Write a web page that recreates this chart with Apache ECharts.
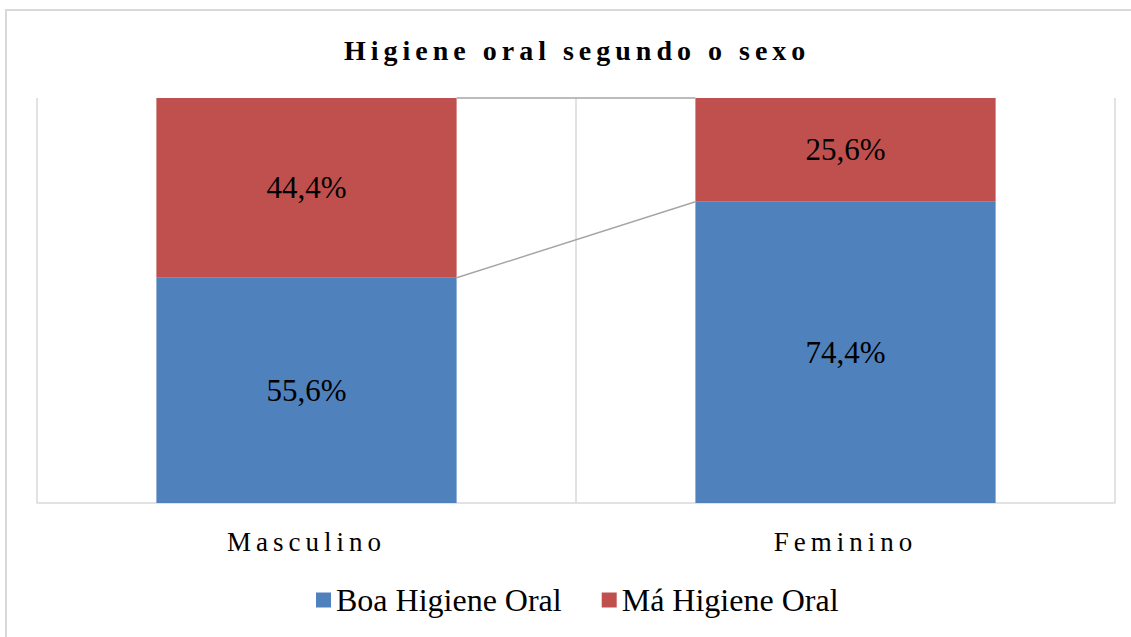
<!DOCTYPE html>
<html>
<head>
<meta charset="utf-8">
<script src="https://cdn.jsdelivr.net/npm/echarts@6/dist/echarts.min.js"></script>
<style>
  html, body { margin: 0; padding: 0; background: #fff; }
  #chart { width: 1131px; height: 637px; }
  /* spaced lettering for title and category labels */
  #chart text[style*="bold"] { letter-spacing: 5px; }
  #chart text[style*="27px"] { letter-spacing: 5px; }
</style>
</head>
<body>
<div id="chart"></div>
<script>
const categories = ["Masculino", "Feminino"];
const boaHigiene = [55.6, 74.4];
const maHigiene = [44.4, 25.6];
const seriesNames = ["Boa Higiene Oral", "Má Higiene Oral"];

const barRatio = 0.557;
const serif = "Liberation Serif";

// stack tops, used for the connector lines between bars
const stackTops = [
  [0, boaHigiene[0], boaHigiene[1]],
  [0, boaHigiene[0] + maHigiene[0], boaHigiene[1] + maHigiene[1]],
];

const chart = echarts.init(document.getElementById("chart"), null, { renderer: "svg" });

const fmt = (p) => p.value.toFixed(1).replace(".", ",") + "%";

const option = {
  backgroundColor: "#fff",
  animation: false,
  textStyle: { fontFamily: serif },
  graphic: [
    {
      type: "rect",
      shape: { x: 6, y: 10, width: 1140, height: 650 },
      style: { fill: "none", stroke: "#d9d9d9", lineWidth: 2 },
      silent: true,
    },
  ],
  title: {
    text: "Higiene oral segundo o sexo",
    left: 339,
    top: 31,
    textStyle: {
      fontFamily: serif,
      fontWeight: "bold",
      fontSize: 28,
      color: "#000",
    },
  },
  legend: {
    data: seriesNames,
    bottom: 16,
    left: 311,
    icon: "rect",
    itemWidth: 15,
    itemHeight: 15,
    itemGap: 40,
    selectedMode: false,
    textStyle: {
      fontFamily: serif,
      fontSize: 32,
      color: "#000",
    },
  },
  grid: {
    left: 37,
    right: 16,
    top: 98,
    bottom: 134,
  },
  xAxis: {
    type: "category",
    data: categories,
    axisLine: { show: true, lineStyle: { color: "#d9d9d9", width: 1.5 } },
    axisTick: { show: false },
    axisLabel: {
      margin: 25,
      fontFamily: serif,
      fontSize: 27,
      color: "#000",
    },
    splitLine: { show: true, lineStyle: { color: "#d9d9d9", width: 1.5 } },
  },
  yAxis: {
    type: "value",
    min: 0,
    max: 100,
    show: false,
    splitLine: { show: false },
  },
  series: [
    {
      name: seriesNames[0],
      type: "bar",
      stack: "total",
      barWidth: barRatio * 100 + "%",
      data: boaHigiene,
      itemStyle: { color: "#4f81bd" },
      label: {
        show: true,
        position: "inside",
        formatter: fmt,
        fontFamily: serif,
        fontSize: 31,
        color: "#000",
      },
    },
    {
      name: seriesNames[1],
      type: "bar",
      stack: "total",
      data: maHigiene,
      itemStyle: { color: "#c0504d" },
      label: {
        show: true,
        position: "inside",
        formatter: fmt,
        fontFamily: serif,
        fontSize: 31,
        color: "#000",
      },
    },
    {
      name: "ligacao",
      type: "custom",
      silent: true,
      data: stackTops,
      encode: { x: 0, y: 1 },
      renderItem: function (params, api) {
        const band = api.size([1, 0])[0];
        const half = (band * barRatio) / 2;
        const a = api.coord([0, api.value(1)]);
        const b = api.coord([1, api.value(2)]);
        return {
          type: "line",
          shape: { x1: a[0] + half, y1: a[1], x2: b[0] - half, y2: b[1] },
          style: { stroke: "#a6a6a6", lineWidth: 1.5 },
        };
      },
      z: 3,
    },
  ],
};

chart.setOption(option);
</script>
</body>
</html>
